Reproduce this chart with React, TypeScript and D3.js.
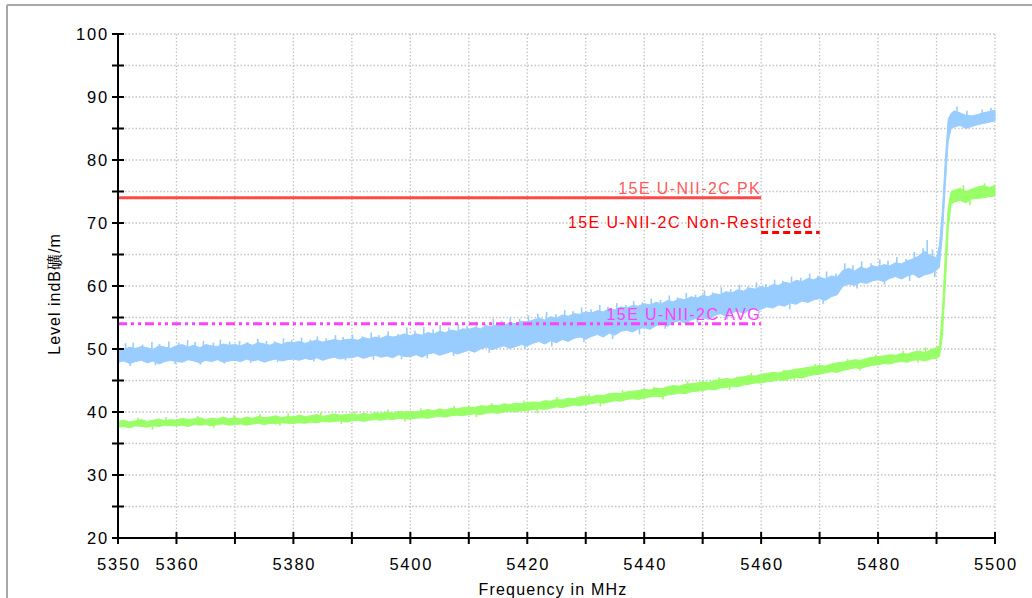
import React from "react";
import * as d3 from "d3";

// ---------- data ----------
const xTickValues = [5350, 5360, 5370, 5380, 5390, 5400, 5410, 5420, 5430, 5440, 5450, 5460, 5470, 5480, 5490, 5500];
const xTickLabels = ["5350", "5360", "", "5380", "", "5400", "", "5420", "", "5440", "", "5460", "", "5480", "", "5500"];
const yTickValues = [20, 25, 30, 35, 40, 45, 50, 55, 60, 65, 70, 75, 80, 85, 90, 95, 100];
const yTickLabels = ["20", "", "30", "", "40", "", "50", "", "60", "", "70", "", "80", "", "90", "", "100"];

// frequencies (MHz): every 1 MHz from 5350 to 5490, then finer through the step
const freqs: number[] = [
  ...d3.range(5350, 5491, 1),
  5490.5, 5491, 5491.5, 5492, 5492.5, 5493, 5494, 5495, 5496, 5497, 5498, 5499, 5500,
];

// Peak trace (blue) lower / upper envelope, dBµV/m
const peakLow = [
  47.9, 48.1, 47.7, 48.0, 48.2, 47.8, 48.1, 47.6, 48.0, 48.2,
  48.0, 47.9, 48.3, 48.1, 47.8, 48.2, 48.0, 48.3, 47.9, 48.1,
  48.2, 48.0, 48.4, 48.1, 48.3, 47.9, 48.2, 48.4, 48.1, 48.3,
  48.4, 48.2, 48.5, 48.3, 48.6, 48.2, 48.5, 48.7, 48.4, 48.6,
  48.6, 48.9, 48.5, 48.8, 49.0, 48.7, 48.9, 48.6, 49.1, 48.8,
  48.8, 49.1, 48.7, 49.2, 49.4, 49.0, 49.3, 49.6, 49.2, 49.5,
  49.8, 49.5, 50.0, 50.3, 49.9, 50.2, 50.5, 50.1, 50.4, 50.7,
  50.5, 50.9, 51.2, 50.8, 51.3, 51.0, 51.5, 51.2, 51.7, 51.9,
  51.6, 52.0, 52.3, 51.9, 52.5, 52.2, 52.8, 53.0, 52.7, 53.2,
  53.4, 53.1, 53.7, 54.0, 53.6, 54.2, 54.5, 54.1, 54.6, 54.9,
  55.0, 54.7, 55.3, 55.6, 55.2, 55.8, 56.0, 55.6, 56.2, 56.4,
  56.3, 56.7, 56.5, 57.0, 56.8, 57.3, 57.1, 57.6, 57.4, 57.8,
  58.0, 57.7, 58.3, 58.6, 60.0, 60.3, 60.1, 60.6, 60.4, 60.8,
  61.0, 60.7, 61.2, 61.5, 61.1, 61.6, 61.9, 61.3, 61.8, 62.0,
  62.5,
  63.0, 68.0, 76.0, 83.0, 85.0, 85.2, 85.5, 85.0, 85.3, 85.6, 85.8, 86.0, 86.2,
];
const peakHigh = [
  50.1, 49.9, 50.3, 50.1, 50.4, 50.2, 49.9, 50.5, 50.3, 50.1,
  50.5, 50.7, 50.3, 50.6, 50.2, 50.7, 50.5, 50.4, 50.8, 50.6,
  50.7, 50.5, 50.9, 50.6, 51.0, 50.8, 50.6, 51.0, 50.7, 51.1,
  51.0, 51.2, 50.9, 51.2, 51.4, 51.1, 51.3, 51.5, 51.3, 51.5,
  51.6, 51.4, 51.8, 51.6, 51.9, 51.7, 52.1, 51.9, 52.1, 52.4,
  52.1, 52.4, 52.2, 52.6, 52.4, 52.8, 52.6, 53.0, 52.8, 53.2,
  53.1, 53.4, 53.2, 53.7, 53.5, 54.0, 53.7, 54.2, 54.0, 54.4,
  54.3, 54.6, 54.9, 54.6, 55.1, 54.9, 55.4, 55.2, 55.6, 55.5,
  55.9, 55.7, 56.1, 55.9, 56.4, 56.2, 56.7, 56.5, 56.9, 56.8,
  57.2, 57.0, 57.4, 57.2, 57.7, 57.5, 58.0, 57.8, 58.3, 58.1,
  58.5, 58.3, 58.8, 58.6, 59.1, 58.9, 59.4, 59.2, 59.7, 59.5,
  59.9, 59.7, 60.2, 60.1, 60.6, 60.4, 60.9, 60.7, 61.2, 61.0,
  61.4, 61.1, 61.6, 61.4, 62.5, 62.8, 62.4, 63.0, 62.7, 63.2,
  63.0, 63.4, 63.2, 63.7, 63.5, 64.0, 64.3, 64.8, 65.5, 64.8,
  64.5,
  66.5, 72.0, 80.0, 86.5, 87.4, 87.8, 87.5, 87.1, 87.0, 87.2, 87.5, 87.7, 87.9,
];

// Average trace (green) lower / upper envelope
const avgLow = [
  37.6, 37.7, 37.5, 37.8, 37.7, 37.6, 37.8, 37.7, 37.9, 37.8,
  37.8, 37.9, 37.7, 38.0, 37.9, 38.0, 37.8, 38.0, 38.1, 37.9,
  38.0, 38.1, 37.9, 38.1, 38.2, 38.0, 38.2, 38.1, 38.3, 38.2,
  38.2, 38.3, 38.2, 38.4, 38.3, 38.5, 38.4, 38.5, 38.6, 38.4,
  38.6, 38.7, 38.5, 38.7, 38.8, 38.7, 38.9, 38.8, 39.0, 38.9,
  38.9, 39.0, 39.1, 39.0, 39.2, 39.3, 39.2, 39.4, 39.5, 39.4,
  39.6, 39.7, 39.6, 39.8, 39.9, 39.8, 40.0, 40.1, 40.0, 40.2,
  40.2, 40.4, 40.5, 40.4, 40.6, 40.8, 40.7, 40.9, 41.1, 41.0,
  41.2, 41.3, 41.5, 41.4, 41.6, 41.8, 41.7, 42.0, 42.1, 42.0,
  42.2, 42.4, 42.5, 42.4, 42.7, 42.8, 43.0, 42.9, 43.2, 43.3,
  43.4, 43.6, 43.5, 43.8, 43.9, 44.1, 44.0, 44.3, 44.4, 44.6,
  44.6, 44.8, 44.9, 45.1, 45.0, 45.3, 45.5, 45.4, 45.7, 45.9,
  46.0, 46.2, 46.4, 46.3, 46.6, 46.8, 47.0, 46.9, 47.2, 47.4,
  47.5, 47.7, 47.6, 47.9, 48.0, 47.9, 48.2, 48.3, 48.1, 48.4,
  48.5,
  48.8, 52.0, 60.0, 69.0, 73.0, 73.3, 73.6, 73.2, 73.8, 73.9, 74.0, 74.2, 74.3,
];
const avgHigh = [
  38.5, 38.7, 38.4, 38.6, 38.8, 38.5, 38.7, 38.9, 38.6, 38.8,
  38.7, 39.0, 38.8, 38.9, 39.1, 38.8, 39.0, 38.9, 39.2, 38.9,
  39.1, 38.9, 39.2, 39.0, 39.3, 39.1, 39.2, 39.4, 39.1, 39.3,
  39.2, 39.5, 39.3, 39.4, 39.6, 39.3, 39.5, 39.7, 39.5, 39.6,
  39.7, 39.5, 39.8, 39.6, 39.9, 39.8, 40.0, 39.8, 40.1, 40.0,
  40.1, 40.0, 40.2, 40.4, 40.2, 40.5, 40.3, 40.6, 40.5, 40.7,
  40.8, 40.7, 41.0, 40.9, 41.1, 41.0, 41.3, 41.2, 41.4, 41.3,
  41.5, 41.6, 41.5, 41.8, 41.7, 42.0, 41.9, 42.2, 42.1, 42.4,
  42.5, 42.4, 42.7, 42.6, 42.9, 43.0, 42.9, 43.2, 43.3, 43.4,
  43.6, 43.5, 43.8, 43.7, 44.0, 44.2, 44.1, 44.4, 44.5, 44.6,
  44.8, 44.7, 45.0, 45.1, 45.3, 45.2, 45.5, 45.6, 45.8, 45.7,
  46.0, 46.1, 46.3, 46.2, 46.5, 46.6, 46.8, 46.9, 47.1, 47.2,
  47.4, 47.3, 47.6, 47.8, 47.9, 48.1, 48.3, 48.2, 48.5, 48.7,
  48.8, 48.9, 49.1, 49.0, 49.3, 49.2, 49.5, 49.7, 49.4, 49.9,
  50.2,
  50.5, 56.0, 65.0, 72.5, 75.0, 75.2, 75.5, 75.0, 75.4, 75.7, 75.9, 75.6, 76.0,
];

// individual noise spikes: [frequency, level]
const peakSpikesUp: [number, number][] = [
  [5351.3, 50.9], [5352.6, 51.0], [5354.2, 50.7], [5355.8, 51.1], [5357.1, 50.8], [5358.7, 51.2],
  [5360.4, 51.0], [5361.9, 51.4], [5363.2, 51.1], [5364.6, 51.3], [5366.3, 51.0], [5367.5, 51.5],
  [5369.1, 51.2], [5370.8, 51.3], [5372.2, 51.1], [5373.9, 51.6], [5375.4, 51.3], [5376.8, 51.2],
  [5378.3, 51.7], [5379.7, 51.4], [5381.4, 51.8], [5382.9, 51.5], [5384.1, 52.0], [5385.6, 51.7],
  [5387.2, 52.2], [5388.5, 51.9], [5390.1, 52.3], [5391.8, 52.0], [5393.3, 52.6], [5394.6, 52.2],
  [5396.2, 52.8], [5397.9, 52.4], [5399.4, 53.4], [5400.8, 52.9], [5402.3, 53.5], [5403.9, 53.1],
  [5405.1, 53.8], [5406.6, 53.4], [5408.2, 54.0], [5409.7, 53.7], [5411.3, 54.3], [5412.8, 54.0],
  [5414.2, 54.8], [5415.6, 54.5], [5417.1, 55.0], [5418.7, 54.8], [5420.2, 55.3], [5421.8, 55.6],
  [5423.3, 55.9], [5424.9, 55.5], [5426.4, 56.2], [5427.8, 56.0], [5429.3, 56.6], [5430.9, 56.3],
  [5432.4, 57.0], [5433.8, 56.7], [5435.3, 57.3], [5436.9, 57.0], [5438.2, 57.6], [5439.7, 57.4],
  [5441.2, 58.0], [5442.8, 57.8], [5444.3, 58.5], [5445.7, 58.2], [5447.2, 58.9], [5448.8, 58.6],
  [5450.3, 59.3], [5451.7, 59.0], [5453.2, 59.8], [5454.8, 59.5], [5456.3, 60.2], [5457.7, 59.9],
  [5459.2, 60.6], [5460.8, 60.3], [5462.3, 61.0], [5463.7, 60.8], [5465.2, 61.5], [5466.8, 61.3],
  [5468.3, 62.0], [5469.7, 61.6], [5471.2, 62.3], [5472.8, 62.0], [5474.3, 63.6], [5475.7, 63.3],
  [5477.2, 63.9], [5478.8, 63.6], [5480.3, 64.2], [5481.7, 64.0], [5483.2, 64.6], [5484.8, 64.3],
  [5486.2, 65.4], [5487.7, 66.0], [5488.4, 67.3], [5489.3, 65.8], [5493.5, 88.5], [5495.2, 87.8],
  [5497.8, 88.0], [5499.3, 88.3],
];
const peakSpikesDown: [number, number][] = [
  [5352.1, 47.3], [5356.4, 47.4], [5359.8, 47.6], [5364.1, 47.5], [5368.2, 47.7], [5372.7, 47.8],
  [5377.3, 47.9], [5383.5, 48.0], [5388.9, 48.2], [5393.7, 48.3], [5398.5, 48.4], [5402.9, 48.5],
  [5407.4, 48.9], [5413.5, 49.4], [5419.6, 50.0], [5424.2, 50.4], [5429.7, 51.1], [5434.6, 51.6],
  [5439.2, 52.3], [5443.6, 53.2], [5449.1, 54.2], [5454.2, 54.7], [5459.6, 55.6], [5464.9, 56.3],
  [5470.6, 57.2], [5476.4, 59.6], [5481.1, 60.2], [5485.4, 60.8], [5489.7, 61.4],
];
const avgSpikesUp: [number, number][] = [
  [5353.4, 39.1], [5358.2, 39.2], [5363.6, 39.4], [5369.8, 39.5], [5374.3, 39.7], [5379.1, 39.8],
  [5384.7, 40.0], [5390.5, 40.1], [5396.2, 40.4], [5401.8, 40.6], [5407.5, 41.0], [5413.9, 41.4],
  [5419.4, 41.8], [5425.1, 42.4], [5430.6, 42.9], [5436.3, 43.5], [5441.7, 44.0], [5447.4, 44.9],
  [5452.8, 45.5], [5458.3, 46.2], [5463.9, 46.7], [5469.2, 47.6], [5474.8, 48.4], [5479.6, 49.1],
  [5484.3, 49.7], [5488.1, 50.3], [5494.6, 76.0], [5498.2, 76.3],
];
const avgSpikesDown: [number, number][] = [
  [5355.9, 37.2], [5366.4, 37.5], [5377.7, 37.8], [5388.2, 38.1], [5399.1, 38.5], [5411.3, 39.2],
  [5421.7, 39.8], [5432.5, 40.9], [5443.2, 42.0], [5454.6, 43.5], [5465.7, 45.0], [5476.9, 46.6],
  [5486.8, 47.8], [5495.7, 72.8],
];

// limit lines
const limitNames = ["15E U-NII-2C PK", "15E U-NII-2C Non-Restricted", "15E U-NII-2C AVG"];
const limitLevels = [74, 68.5, 54];
const limitStart = [5350, 5460, 5350];
const limitEnd = [5460, 5470, 5460];

// ---------- layout ----------
const W = 1032;
const H = 598;
const left = 118, right = 995, top = 34, bottom = 538;

export default function App() {
  const x = d3.scaleLinear().domain([5350, 5500]).range([left, right]);
  const y = d3.scaleLinear().domain([20, 100]).range([bottom, top]);

  const bandArea = (lo: number[], hi: number[]) =>
    d3
      .area<number>()
      .x((_, i) => x(freqs[i]))
      .y0((_, i) => y(lo[i]))
      .y1((d) => y(d))(hi) || "";

  const mid = (lo: number[], hi: number[], f: number) => {
    const i = Math.max(1, Math.min(freqs.length - 1, d3.bisectLeft(freqs, f)));
    const t = (f - freqs[i - 1]) / (freqs[i] - freqs[i - 1]);
    const m0 = (lo[i - 1] + hi[i - 1]) / 2;
    const m1 = (lo[i] + hi[i]) / 2;
    return m0 + (m1 - m0) * t;
  };

  const spikes = (lo: number[], hi: number[], s: [number, number][], color: string, key: string) =>
    s.map(([f, v], k) => (
      <line key={key + k} x1={x(f)} x2={x(f)} y1={y(mid(lo, hi, f))} y2={y(v)} stroke={color} strokeWidth={1.6} />
    ));

  const font = "'Liberation Sans', Arial, sans-serif";
  const limitColors = ["#ff4848", "#ff0000", "#ff40ff"];
  const labelColors = ["#ff5a5a", "#ff0000", "#ff40ff"];
  const dashes = ["none", "7,4", "9,4,3,4,3,4"];
  const labelY = [y(74) - 4, y(68.5) - 4, y(54) - 4];
  const blue = "#99ccff";
  const green = "#99ff66";

  return (
    <svg width={W} height={H} style={{ position: "absolute", left: 0, top: 0, background: "#fff" }}>
      {/* frame */}
      <line x1={7} y1={5} x2={W} y2={5} stroke="#a8a8a8" strokeWidth={2} />
      <line x1={7} y1={5} x2={7} y2={H} stroke="#a8a8a8" strokeWidth={2} />

      {/* grid */}
      {yTickValues.map((v) => (
        <line key={"gy" + v} x1={left} x2={right} y1={y(v)} y2={y(v)} stroke="#c4c4c4" strokeWidth={1.3} strokeDasharray="1.5,2" />
      ))}
      {xTickValues.map((v) => (
        <line key={"gx" + v} x1={x(v)} x2={x(v)} y1={top} y2={bottom} stroke="#c4c4c4" strokeWidth={1.3} strokeDasharray="1.5,2" />
      ))}

      {/* traces */}
      <path d={bandArea(peakLow, peakHigh)} fill={blue} stroke={blue} strokeWidth={1} />
      {spikes(peakLow, peakHigh, peakSpikesUp, blue, "pu")}
      {spikes(peakLow, peakHigh, peakSpikesDown, blue, "pd")}
      <path d={bandArea(avgLow, avgHigh)} fill={green} stroke={green} strokeWidth={1} />
      {spikes(avgLow, avgHigh, avgSpikesUp, green, "au")}
      {spikes(avgLow, avgHigh, avgSpikesDown, green, "ad")}

      {/* limit lines */}
      {limitNames.map((n, i) => (
        <g key={n}>
          <line
            x1={x(limitStart[i])}
            x2={x(limitEnd[i])}
            y1={y(limitLevels[i])}
            y2={y(limitLevels[i])}
            stroke={limitColors[i]}
            strokeWidth={3}
            strokeDasharray={dashes[i]}
          />
          <text
            x={i === 1 ? 813 : x(5460)}
            y={labelY[i]}
            textAnchor="end"
            fill={labelColors[i]}
            fontFamily={font}
            fontSize={16}
            letterSpacing={1.4}
          >
            {n}
          </text>
        </g>
      ))}

      {/* axes */}
      <line x1={left} x2={left} y1={top} y2={bottom} stroke="#000" strokeWidth={2} />
      <line x1={left} x2={right} y1={bottom} y2={bottom} stroke="#000" strokeWidth={2} />
      {yTickValues.map((v, i) => (
        <g key={"ty" + v}>
          <line x1={left - 6} x2={left + 6} y1={y(v)} y2={y(v)} stroke="#000" strokeWidth={2} />
          {yTickLabels[i] && (
            <text x={left - 9} y={y(v) + 6} textAnchor="end" fontFamily={font} fontSize={16.5} letterSpacing={1.8} fill="#000">
              {yTickLabels[i]}
            </text>
          )}
        </g>
      ))}
      {xTickValues.map((v, i) => (
        <g key={"tx" + v}>
          <line x1={x(v)} x2={x(v)} y1={bottom - 6} y2={bottom + 6} stroke="#000" strokeWidth={2} />
          {xTickLabels[i] && (
            <text x={x(v) + 1} y={bottom + 32} textAnchor="middle" fontFamily={font} fontSize={16.5} letterSpacing={1.8} fill="#000">
              {xTickLabels[i]}
            </text>
          )}
        </g>
      ))}

      {/* axis titles */}
      <text x={553} y={595} textAnchor="middle" fontFamily={font} fontSize={16} letterSpacing={1.2} fill="#000">
        Frequency in MHz
      </text>
      <text
        transform={`translate(60, 294) rotate(-90)`}
        textAnchor="middle"
        fontFamily={font}
        fontSize={16}
        letterSpacing={1}
        fill="#000"
      >
        Level indB礦/m
      </text>
    </svg>
  );
}
